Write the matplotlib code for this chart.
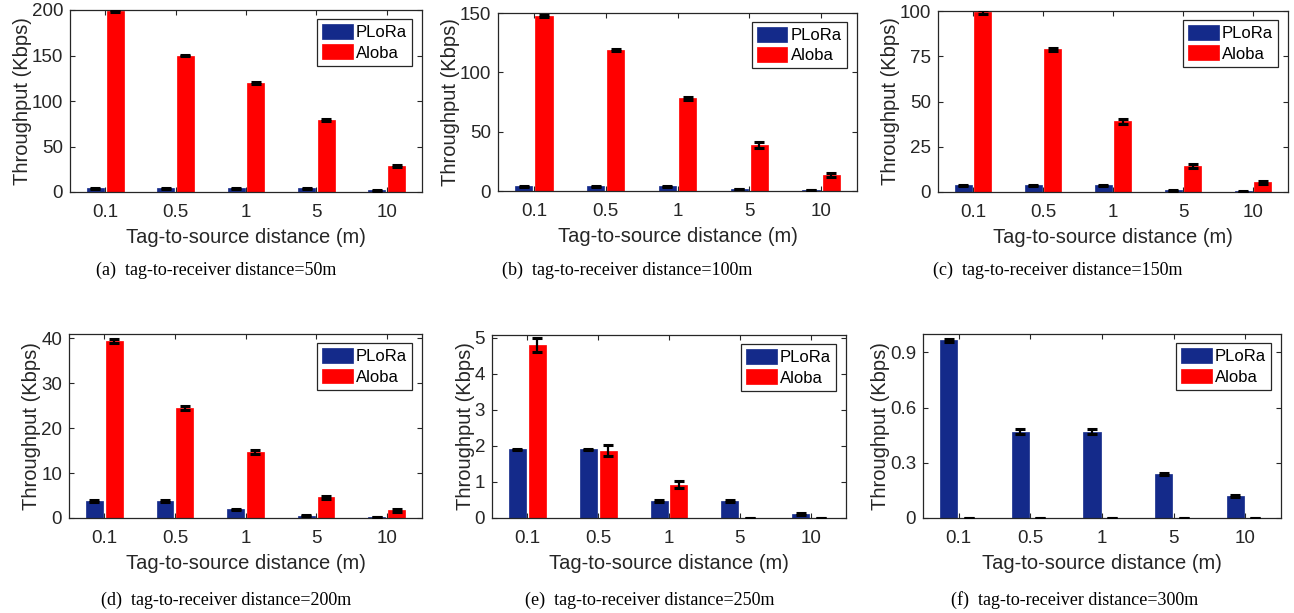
import numpy as np
import matplotlib.pyplot as plt

# data
distances = ["0.1", "0.5", "1", "5", "10"]
captions = ["(a)  tag-to-receiver distance=50m", "(b)  tag-to-receiver distance=100m",
            "(c)  tag-to-receiver distance=150m", "(d)  tag-to-receiver distance=200m",
            "(e)  tag-to-receiver distance=250m", "(f)  tag-to-receiver distance=300m"]

plora_50 = [3.9, 3.9, 3.9, 3.9, 1.8]
plora_50_err = [0.4, 0.4, 0.4, 0.4, 0.3]
aloba_50 = [199, 150, 119.5, 79.5, 29]
aloba_50_err = [1.2, 1.0, 1.0, 1.0, 1.0]

plora_100 = [3.8, 3.8, 3.8, 1.8, 0.9]
plora_100_err = [0.4, 0.4, 0.4, 0.3, 0.3]
aloba_100 = [147.5, 119, 78, 38.5, 13.5]
aloba_100_err = [1.2, 1.0, 1.5, 2.5, 2.0]

plora_150 = [3.8, 3.8, 3.8, 1.0, 0.3]
plora_150_err = [0.3, 0.3, 0.3, 0.2, 0.1]
aloba_150 = [99.3, 78.8, 39, 14.3, 5.3]
aloba_150_err = [1.0, 1.0, 1.3, 1.2, 1.0]

plora_200 = [3.8, 3.8, 1.9, 0.5, 0.25]
plora_200_err = [0.2, 0.2, 0.15, 0.1, 0.05]
aloba_200 = [39.5, 24.5, 14.7, 4.6, 1.7]
aloba_200_err = [0.4, 0.4, 0.4, 0.4, 0.4]

plora_250 = [1.9, 1.9, 0.47, 0.47, 0.11]
plora_250_err = [0.02, 0.02, 0.02, 0.02, 0.02]
aloba_250 = [4.8, 1.87, 0.92, 0, 0]
aloba_250_err = [0.2, 0.15, 0.1, 0, 0]

plora_300 = [0.965, 0.47, 0.47, 0.24, 0.12]
plora_300_err = [0.008, 0.012, 0.012, 0.005, 0.005]
aloba_300 = [0, 0, 0, 0, 0]
aloba_300_err = [0, 0, 0, 0, 0]

plora = [plora_50, plora_100, plora_150, plora_200, plora_250, plora_300]
plora_err = [plora_50_err, plora_100_err, plora_150_err, plora_200_err, plora_250_err, plora_300_err]
aloba = [aloba_50, aloba_100, aloba_150, aloba_200, aloba_250, aloba_300]
aloba_err = [aloba_50_err, aloba_100_err, aloba_150_err, aloba_200_err, aloba_250_err, aloba_300_err]

ylims = [200, 150, 100, 41, 5.07, 1.0]
yticks = [[0, 50, 100, 150, 200], [0, 50, 100, 150], [0, 25, 50, 75, 100],
          [0, 10, 20, 30, 40], [0, 1, 2, 3, 4, 5], [0, 0.3, 0.6, 0.9]]
yticklabels = [None, None, None, None, None, ["0", "0.3", "0.6", "0.9"]]

# axes boxes in pixels: left, right, top, bottom
boxes = [(70, 422, 10, 192), (498, 857, 13, 191), (938, 1288, 11, 192),
         (69, 422, 334, 518), (492, 846, 335, 518), (923, 1281, 334, 518)]
cap_pos = [(216, 270), (627, 270), (1058, 270), (226, 600), (650, 600), (1075, 600)]

W, H = 1294, 613
blue = "#142A8A"
red = "#FF0000"
dark = "#262626"

plt.rcParams['font.family'] = ['Liberation Sans', 'DejaVu Sans']

fig = plt.figure(figsize=(W / 100, H / 100), dpi=100)

x = np.arange(1, 6)
off = 0.14
bw = 0.24

for i in range(6):
    l, r, t, b = boxes[i]
    ax = fig.add_axes([l / W, 1 - b / H, (r - l) / W, (b - t) / H])
    ax.bar(x - off, plora[i], bw, color=blue, edgecolor=blue, linewidth=0.5, label="PLoRa", zorder=2)
    ax.bar(x + off, aloba[i], bw, color=red, edgecolor=red, linewidth=0.5, label="Aloba", zorder=2)
    ax.errorbar(x - off, plora[i], yerr=plora_err[i], fmt="none", ecolor="black",
                elinewidth=1.6, capsize=3.3, capthick=2.2, zorder=3)
    ax.errorbar(x + off, aloba[i], yerr=aloba_err[i], fmt="none", ecolor="black",
                elinewidth=1.6, capsize=3.3, capthick=2.2, zorder=3)
    ax.set_xlim(0.5, 5.5)
    ax.set_ylim(0, ylims[i])
    ax.set_xticks(x)
    ax.set_xticklabels(distances)
    ax.set_yticks(yticks[i])
    if yticklabels[i] is not None:
        ax.set_yticklabels(yticklabels[i])
    ax.tick_params(direction="in", length=3.5, width=0.8, top=True, right=True,
                   labelsize=13.5, colors=dark)
    ax.tick_params(axis="x", pad=8.5)
    ax.tick_params(axis="y", pad=5)
    for s in ax.spines.values():
        s.set_color(dark)
        s.set_linewidth(0.9)
    ax.set_xlabel("Tag-to-source distance (m)", fontsize=14.5, color=dark, labelpad=5)
    ax.set_ylabel("Throughput (Kbps)", fontsize=14.5, color=dark, labelpad=0)
    leg = ax.legend(loc="upper right", bbox_to_anchor=(0.972, 0.95), fontsize=12,
                    fancybox=False, framealpha=1, edgecolor=dark, handlelength=1.85,
                    handleheight=1.0, borderpad=0.3, labelspacing=0.25, handletextpad=0.2,
                    borderaxespad=0)
    leg.get_frame().set_linewidth(0.9)
    fig.text(cap_pos[i][0] / W, 1 - cap_pos[i][1] / H, captions[i], ha="center", va="center",
             fontsize=13, family=["Liberation Serif", "DejaVu Serif"], color="black")

fig.savefig("out.png", dpi=100)
